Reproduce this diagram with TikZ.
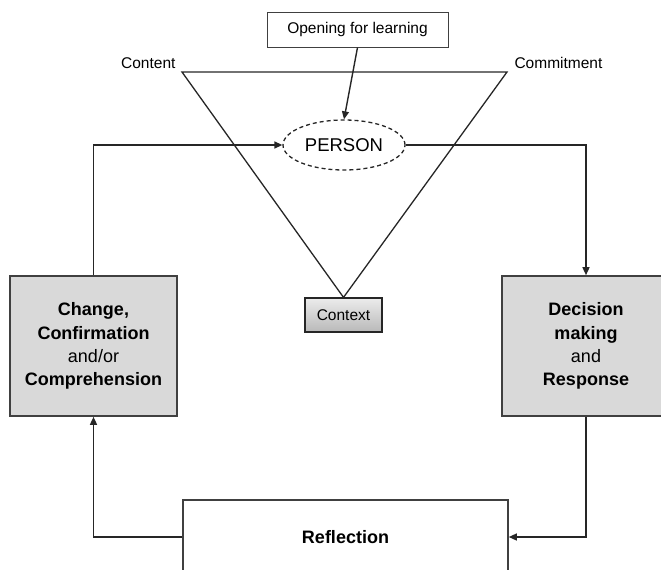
\documentclass[tikz,border=0pt]{standalone}
\usepackage{fontspec}
\setmainfont{Liberation Sans}
\usepackage{tikz}
\usetikzlibrary{arrows.meta,positioning,calc,shapes.geometric}
\definecolor{boxgray}{HTML}{D9D9D9}
\definecolor{edgegray}{HTML}{404040}
\definecolor{linegray}{HTML}{262626}

\begin{document}
\begin{tikzpicture}[x=1pt,y=-1pt,
  every node/.style={font=\fontsize{15.5}{18}\selectfont},
  bigbox/.style={rectangle,draw=edgegray,line width=1.6pt,fill=boxgray,align=center,inner sep=0pt,
    font=\fontsize{18}{23.3}\selectfont\bfseries},
  arr/.style={-{Triangle[length=8pt,width=7pt]},line width=1.4pt,draw=linegray}]
\clip (0,0) rectangle (661,570);

\node[rectangle,draw=edgegray,line width=1pt,minimum width=181pt,minimum height=35pt,inner sep=0pt] (open) at (357.5,29.5) {Opening for learning};
\node[ellipse,draw=linegray,dashed,dash pattern=on 4pt off 3pt,line width=1.3pt,minimum width=122pt,minimum height=50pt,inner sep=0pt,
  font=\fontsize{18.5}{22}\selectfont] (pers) at (344,145) {PERSON};
\node[rectangle,draw=linegray,line width=1.2pt,top color=gray!15,bottom color=gray!55,minimum width=77pt,minimum height=34pt,inner sep=0pt] (ctx) at (343.5,315) {Context};

\node[bigbox,minimum width=167pt,minimum height=140pt] (chg) at (93.5,346) {Change,\\Confirmation\\{\mdseries and/or}\\Comprehension};
\node[bigbox,minimum width=168pt,minimum height=140pt] (dec) at (586,346) {Decision\\making\\{\mdseries and}\\Response};
\node[bigbox,fill=white,minimum width=325pt,minimum height=74pt] (refl) at (345.5,537) {Reflection};

\coordinate (cl) at (182,72);
\coordinate (cr) at (507,72);
\node[anchor=base east] (cont) at (179,68) {Content};
\node[anchor=base west] (comm) at (511,68) {Commitment};
\draw[line width=1.3pt,draw=linegray] (cl) -- (cr) -- (ctx.north) -- cycle;

\draw[arr] (open.south) -- (pers.north);
\draw[arr] (chg.north) |- (pers.west);
\draw[arr] (pers.east) -| (dec.north);
\draw[arr] (dec.south) |- (refl.east);
\draw[arr] (refl.west) -| (chg.south);
\end{tikzpicture}
\end{document}
